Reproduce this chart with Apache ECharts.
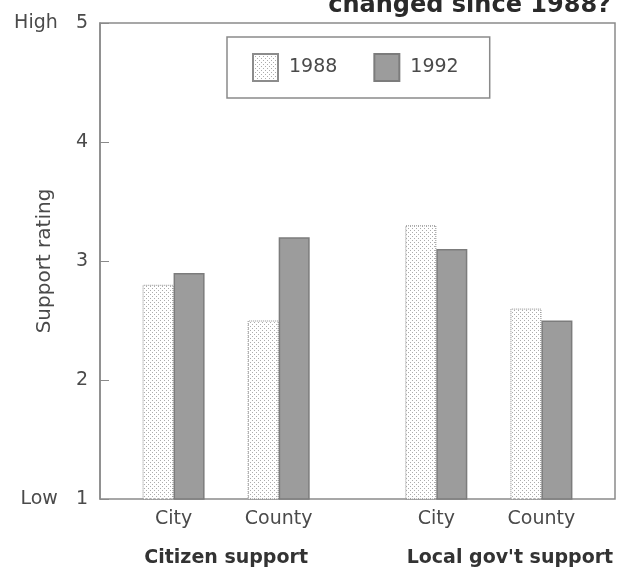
<!DOCTYPE html>
<html>
<head>
<meta charset="utf-8">
<script src="https://cdn.jsdelivr.net/npm/echarts@6/dist/echarts.min.js"></script>
<style>
  html, body { margin: 0; padding: 0; background: #fff; }
  #chart { width: 621px; height: 568px; }
</style>
</head>
<body>
<div id="chart"></div>
<script>
// Support ratings, 1 (low) to 5 (high)
const categories = ['City', 'County', 'City', 'County'];
const groups = ['Citizen support', "Local gov't support"];
const years = ['1988', '1992'];
const ratings1988 = [2.8, 2.5, 3.3, 2.6];
const ratings1992 = [2.9, 3.2, 3.1, 2.5];
const yTicks = ['Low   1', '2', '3', '4', 'High   5'];

// Horizontal layout: bar pairs sit on a numeric track, with a wider gap between groups
const slotAt = [1, 2, 3.5, 4.5];
const groupLabelAt = [1.5, 4.2];
const trackMin = 0.3, trackMax = 5.2;

// light dotted fill for the 1988 bars
function dotPattern() {
  const c = document.createElement('canvas');
  c.width = 4; c.height = 4;
  const g = c.getContext('2d');
  g.fillStyle = '#ffffff';
  g.fillRect(0, 0, 4, 4);
  g.fillStyle = '#acacac';
  g.fillRect(0, 0, 1, 1);
  g.fillRect(2, 2, 1, 1);
  return c;
}

const textColor = '#4a4a4a';
const lineColor = '#8a8a8a';
const font = 'DejaVu Sans, Verdana, sans-serif';

const chart = echarts.init(document.getElementById('chart'), null, { renderer: 'canvas' });

const option = {
  animation: false,
  backgroundColor: '#ffffff',
  textStyle: { fontFamily: font },
  title: {
    text: 'changed since 1988?',
    right: 10,
    top: -6,
    padding: 0,
    textStyle: { fontSize: 24, fontWeight: 'bold', color: '#2a2a2a', fontFamily: font }
  },
  legend: {
    data: years,
    left: 227,
    top: 37,
    orient: 'horizontal',
    itemWidth: 25,
    itemHeight: 27,
    itemGap: 36,
    padding: [16, 31, 16, 25],
    borderColor: lineColor,
    borderWidth: 1.5,
    icon: 'rect',
    textStyle: { fontSize: 19, color: textColor, padding: [0, 0, 0, 6], fontFamily: font }
  },
  grid: {
    left: 100,
    right: 6,
    top: 23,
    bottom: 69,
    show: true,
    borderColor: lineColor,
    borderWidth: 1.5,
    containLabel: false
  },
  xAxis: [
    {
      type: 'value',
      min: trackMin,
      max: trackMax,
      position: 'bottom',
      axisLine: { show: false },
      axisTick: { show: false },
      splitLine: { show: false },
      axisLabel: {
        customValues: slotAt,
        formatter: function (v) {
          const i = slotAt.indexOf(v);
          return i >= 0 ? categories[i] : '';
        },
        fontSize: 19,
        color: textColor,
        margin: 11,
        fontFamily: font
      }
    },
    {
      type: 'value',
      min: trackMin,
      max: trackMax,
      position: 'bottom',
      offset: 41,
      axisLine: { show: false },
      axisTick: { show: false },
      splitLine: { show: false },
      axisLabel: {
        customValues: groupLabelAt,
        formatter: function (v) {
          const i = groupLabelAt.indexOf(v);
          return i >= 0 ? groups[i] : '';
        },
        fontSize: 19,
        fontWeight: 'bold',
        color: '#333',
        margin: 9,
        fontFamily: font
      }
    }
  ],
  yAxis: {
    type: 'value',
    min: 1,
    max: 5,
    interval: 1,
    name: 'Support rating',
    nameLocation: 'middle',
    nameGap: 45,
    nameMoveOverlap: false,
    nameTextStyle: { fontSize: 20, color: textColor, fontFamily: font },
    axisLine: { show: true, lineStyle: { color: lineColor, width: 1.5 } },
    axisTick: { show: true, inside: true, length: 9, lineStyle: { color: lineColor, width: 1 } },
    splitLine: { show: false },
    axisLabel: {
      formatter: function (v) { return yTicks[Math.round(v) - 1]; },
      fontSize: 19,
      color: textColor,
      margin: 12,
      fontFamily: font
    }
  },
  series: [
    {
      name: years[0],
      type: 'bar',
      xAxisIndex: 0,
      barWidth: 31,
      barGap: '0%',
      data: ratings1988.map((v, i) => [slotAt[i], v]),
      itemStyle: {
        color: { image: dotPattern(), repeat: 'repeat' },
        borderColor: '#8c8c8c',
        borderWidth: 1,
        borderType: 'dotted'
      }
    },
    {
      name: years[1],
      type: 'bar',
      xAxisIndex: 0,
      barWidth: 31,
      barGap: '0%',
      data: ratings1992.map((v, i) => [slotAt[i], v]),
      itemStyle: {
        color: '#9c9c9c',
        borderColor: '#7c7c7c',
        borderWidth: 1.5
      }
    }
  ]
};

chart.setOption(option);
</script>
</body>
</html>
